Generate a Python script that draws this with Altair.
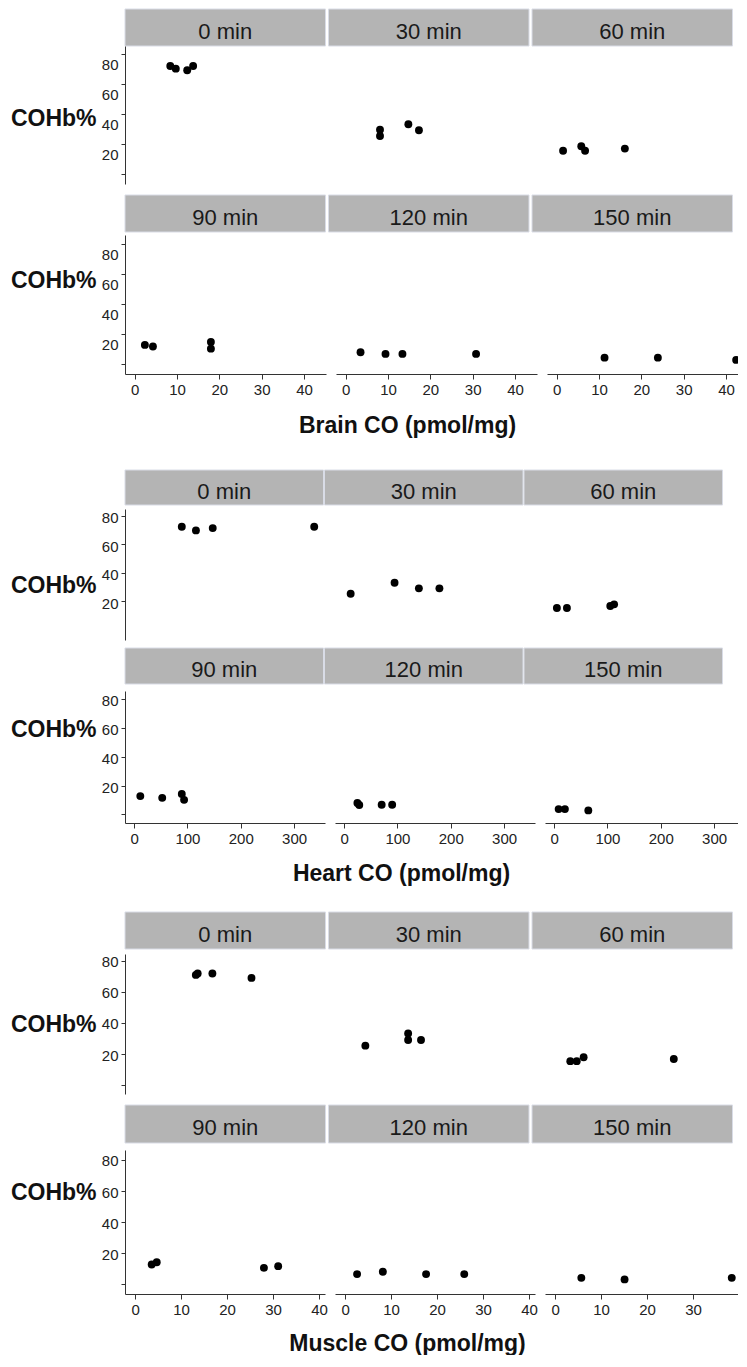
import altair as alt
import pandas as pd

FONT = "Liberation Sans"
TIMES = ["0 min", "30 min", "60 min", "90 min", "120 min", "150 min"]

# ---------------- data ----------------
brain_time = [0, 0, 0, 0, 30, 30, 30, 30, 60, 60, 60, 60,
              90, 90, 90, 90, 120, 120, 120, 120, 150, 150, 150]
brain_co = [8.4, 9.7, 12.4, 13.8, 8.1, 8.1, 14.8, 17.3, 1.5, 5.8, 6.7, 16.1,
            2.4, 4.3, 18.0, 18.0, 3.5, 9.4, 13.4, 30.8, 11.3, 23.9, 42.4]
brain_cohb = [72.2, 70.4, 69.3, 72.2, 29.7, 25.5, 33.3, 29.3, 15.7, 18.7, 15.7, 17.1,
              12.9, 11.8, 14.9, 10.4, 8.0, 6.9, 6.9, 6.9, 4.4, 4.4, 2.9]

heart_time = [0, 0, 0, 0, 30, 30, 30, 30, 60, 60, 60, 60,
              90, 90, 90, 90, 120, 120, 120, 120, 150, 150, 150]
heart_co = [89.5, 116.0, 147.5, 337.8, 12.4, 94.7, 140.3, 178.8, 5.3, 24.1, 105.4, 112.6,
            11.7, 52.8, 89.5, 93.8, 25.0, 28.5, 70.5, 90.2, 8.6, 20.3, 64.2]
heart_cohb = [72.3, 69.7, 71.3, 72.3, 25.3, 33.0, 29.1, 29.1, 15.3, 15.3, 16.7, 17.9,
              12.7, 11.5, 14.1, 10.1, 7.9, 6.5, 6.7, 6.7, 3.7, 3.7, 2.8]

muscle_time = [0, 0, 0, 0, 30, 30, 30, 30, 60, 60, 60, 60,
               90, 90, 90, 90, 120, 120, 120, 120, 150, 150, 150]
muscle_co = [13.2, 13.6, 16.8, 25.3, 4.4, 13.7, 13.7, 16.5, 3.3, 4.7, 6.2, 25.8,
             3.6, 4.7, 28.0, 31.1, 2.6, 8.2, 17.6, 25.9, 5.7, 15.1, 38.4]
muscle_cohb = [71.0, 71.9, 71.9, 69.1, 25.4, 33.3, 29.0, 29.0, 15.4, 15.4, 17.9, 16.8,
               12.8, 14.2, 10.6, 11.7, 6.6, 8.1, 6.6, 6.6, 4.2, 3.2, 4.2]

brain_xticks = [0, 10, 20, 30, 40]
heart_xticks = [0, 100, 200, 300]
muscle_xticks = [0, 10, 20, 30, 40]
y_ticks = [0, 20, 40, 60, 80]

ROW_W = 613  # full width of one row of three panels (px)
SP = 10      # gap between panels (px)


def spacer(h):
    return alt.Chart(pd.DataFrame({"v": []})).mark_point().properties(width=0, height=h)


def header(labels, h, step, gap):
    pi = gap / step
    po = max((ROW_W / step - (3 - pi)) / 2, 0)
    d = pd.DataFrame({"label": labels})
    base = alt.Chart(d).encode(
        x=alt.X("label:N", sort=labels, axis=None,
                scale=alt.Scale(paddingInner=pi, paddingOuter=po, align=0))
    )
    rect = base.mark_rect(fill="#b4b4b4", stroke="#d9dce6", strokeWidth=1)
    text = base.mark_text(font=FONT, fontSize=22, color="#1a1a1a", dy=4,
                          baseline="middle").encode(text="label:N")
    return (rect + text).properties(width=ROW_W, height=h)


def panel_row(df, r, p):
    layers = []
    x0 = 0
    widths = [p["w"], p["w"], ROW_W - 2 * p["w"] - 2 * SP]
    for c in range(3):
        lab = TIMES[r * 3 + c]
        sub = df[df["t"] == lab]
        w = widths[c]
        xdom = [p["xmin"], p["xmin"] + w / p["ppu"]]
        rng = [x0, x0 + w]
        x0 += w + SP
        if r == 1:
            xv = [v for v in p["xticks"] if v <= xdom[1] - 0.5]
            if c == 0:
                xaxis = alt.Axis(values=xv, orient="bottom", title=p["xtitle"],
                                 titleX=p["xtitle_x"], titleY=p["xtitle_y"],
                                 titleAlign="center", titleAnchor="start",
                                 titleBaseline="alphabetic", tickSize=5, labelPadding=3,
                                 labelFlush=False, labelOverlap=False, grid=False)
            else:
                xaxis = alt.Axis(values=xv, orient="bottom", title=None, tickSize=5,
                                 labelPadding=3, labelFlush=False, labelOverlap=False,
                                 grid=False)
        else:
            xaxis = None
        yaxis = alt.Axis(values=p["yticks"][r],
                         labelExpr="datum.value == 0 ? '' : datum.label",
                         title="COHb%", titleAngle=0, titleAlign="right",
                         titleBaseline="middle", titleX=-29, titleY=p["ty"][r],
                         labelOffset=p["loff"], tickSize=4, labelPadding=3,
                         labelOverlap=False, labelFlush=False, grid=False)
        layer = alt.Chart(sub).mark_circle(size=62, color="#000000", opacity=1,
                                           clip=(c == 2)).encode(
            x=alt.X("co:Q", axis=xaxis,
                    scale=alt.Scale(domain=xdom, range=rng, nice=False, zero=False)),
            y=alt.Y("cohb:Q", axis=yaxis,
                    scale=alt.Scale(domain=p["ydom"][r], nice=False, zero=False)),
        )
        layers.append(layer)
    return alt.layer(*layers).resolve_scale(x="independent").resolve_axis(
        x="independent").properties(width=ROW_W, height=p["h"][r])


def section(time, co, cohb, p):
    df = pd.DataFrame({"t": [f"{v} min" for v in time], "co": co, "cohb": cohb})
    out = [header(TIMES[:3], p["hh"][0], p["hstep"], p["hgap"])]
    if p["hg"][0] > 0:
        out.append(spacer(p["hg"][0]))
    out.append(panel_row(df, 0, p))
    out.append(spacer(p["rg"]))
    out.append(header(TIMES[3:], p["hh"][1], p["hstep"], p["hgap"]))
    out.append(spacer(p["hg"][1]))
    out.append(panel_row(df, 1, p))
    return out


brain = section(brain_time, brain_co, brain_cohb, dict(
    w=201, xmin=-2.3, ppu=201 / 47.5, xticks=brain_xticks,
    xtitle="Brain CO (pmol/mg)", xtitle_x=282, xtitle_y=58,
    h=[138, 139], ydom=[[-6.5, 85.5], [-6.5, 86.2]],
    yticks=[y_ticks, y_ticks], ty=[72, 45], loff=10,
    hh=[37, 37], hstep=203.5, hgap=3, hg=[0, 3], rg=11))

heart = section(heart_time, heart_co, heart_cohb, dict(
    w=200, xmin=-17, ppu=0.5333, xticks=heart_xticks,
    xtitle="Heart CO (pmol/mg)", xtitle_x=276, xtitle_y=57,
    h=[131, 132], ydom=[[-7.1, 84.7], [-5.9, 85.3]],
    yticks=[[20, 40, 60, 80], y_ticks], ty=[76, 38], loff=2,
    hh=[35, 36], hstep=199.5, hgap=1, hg=[4, 7], rg=8))

muscle = section(muscle_time, muscle_co, muscle_cohb, dict(
    w=200, xmin=-2.2, ppu=4.6, xticks=muscle_xticks,
    xtitle="Muscle CO (pmol/mg)", xtitle_x=282, xtitle_y=56,
    h=[140, 144], ydom=[[-5.8, 84.5], [-6.2, 86.4]],
    yticks=[y_ticks, y_ticks], ty=[70, 42], loff=1,
    hh=[37, 38], hstep=203.5, hgap=3, hg=[5, 7], rg=11))

rows = brain + [spacer(96)] + heart + [spacer(89)] + muscle

chart = alt.vconcat(*rows, spacing=0, bounds="flush").properties(
    padding={"left": 2, "top": 0, "right": 0, "bottom": 0}
).configure_view(
    strokeWidth=0
).configure_axis(
    labelFont=FONT, labelFontSize=15, labelColor="#222222",
    titleFont=FONT, titleFontSize=23, titleFontWeight="bold", titleColor="#111111",
    domainColor="#333333", domainWidth=1, tickColor="#333333", tickWidth=1,
)

chart.save("out.html", embed_options={"renderer": "svg", "actions": False})
